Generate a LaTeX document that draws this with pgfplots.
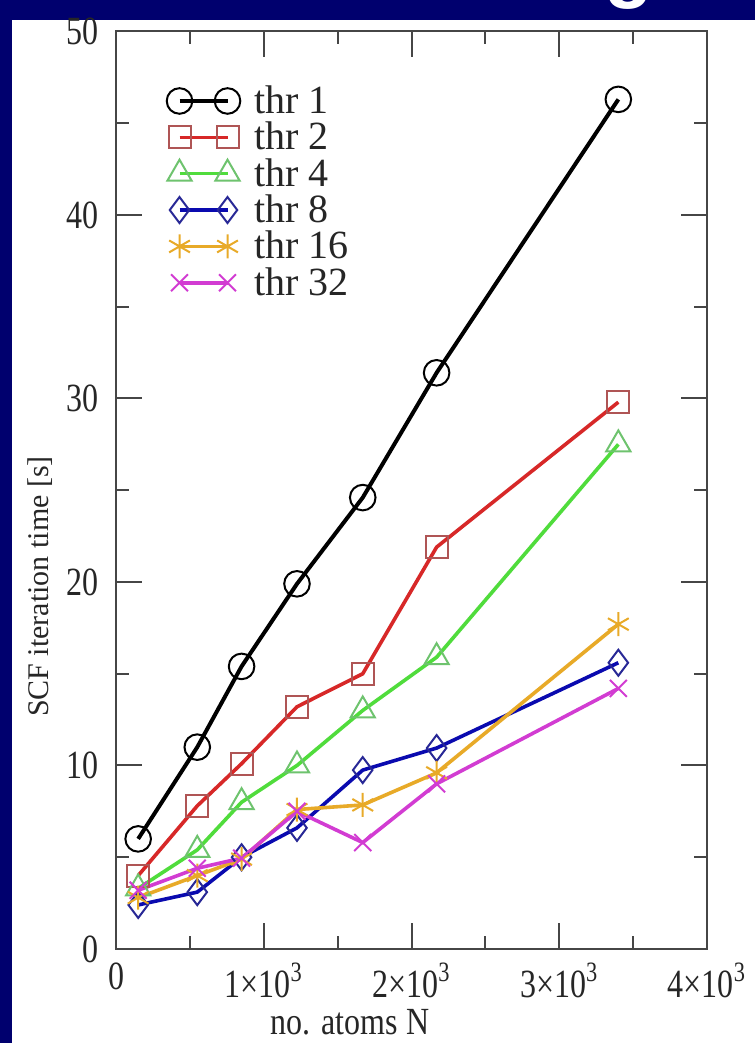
\documentclass[border=0pt]{standalone}
\usepackage{fontspec}
\setmainfont{Liberation Serif}
\newfontfamily\titlefont{Liberation Sans}
\usepackage{pgfplots}
\pgfplotsset{compat=1.18}
\definecolor{navybg}{RGB}{0,0,110}
\definecolor{axgray}{RGB}{70,70,70}
\definecolor{c1}{RGB}{0,0,0}
\definecolor{c2}{RGB}{215,40,40}
\definecolor{m2}{RGB}{175,85,85}
\definecolor{c4}{RGB}{80,220,60}
\definecolor{m4}{RGB}{110,195,110}
\definecolor{c8}{RGB}{10,10,175}
\definecolor{m8}{RGB}{40,40,150}
\definecolor{c16}{RGB}{232,170,40}
\definecolor{c32}{RGB}{210,60,210}
\begin{document}
\begin{tikzpicture}
\useasboundingbox (0,0) rectangle (377.5pt,521.5pt);
\fill[navybg] (0,0) rectangle (377.5pt,521.5pt);
\fill[white] (6pt,0) rectangle (377.5pt,511.5pt);
\node[white, anchor=base east, inner sep=0pt, font=\titlefont\bfseries\fontsize{40}{40}\selectfont] at (327pt,525pt) {g};
\begin{axis}[
  at={(58pt,47pt)}, anchor=south west,
  scale only axis, width=295.5pt, height=458.75pt,
  xmin=0, xmax=4000, ymin=0, ymax=50,
  xtick={0,1000,2000,3000,4000},
  xticklabels={0,{1×10\textsuperscript{3}},{2×10\textsuperscript{3}},{3×10\textsuperscript{3}},{4×10\textsuperscript{3}}},
  ytick={0,10,20,30,40,50},
  minor tick num=1,
  tick align=inside,
  major tick length=13pt, minor tick length=6.5pt,
  every tick/.style={axgray, line width=1pt},
  axis line style={axgray, line width=1pt},
  /pgf/number format/assume math mode=true,
  tick label style={font=\fontsize{16}{19}\selectfont, text=black!85, yscale=1.25},
  yticklabel style={xshift=-5pt},
  xticklabel style={yshift=-2pt},
  xlabel={no. atoms N},
  ylabel={SCF iteration time [s]},
  xlabel style={font=\fontsize{16}{19}\selectfont, text=black!85, yscale=1.2, at={(axis description cs:0.396,-0.0796)}, anchor=center},
  ylabel style={font=\fontsize{15}{18}\selectfont, text=black!85, at={(axis description cs:-0.1286,0.395)}, anchor=center},
  clip=false,
  legend cell align=left,
  legend style={draw=none, fill=none, at={(axis description cs:0.075,0.948)}, anchor=north west,
    font=\fontsize{20}{21}\selectfont, row sep=0.8pt, column sep=5pt, text=black!85,
    nodes={inner ysep=1pt}},
  legend image code/.code={\draw[mark repeat=1,mark phase=1] plot coordinates {(0pt,0pt) (24pt,0pt)};},
]
\addplot[c1, line width=2pt, mark=o, mark size=6.4pt, mark options={solid, line width=1pt, c1}]
  coordinates {(150,6.0) (550,11.0) (850,15.4) (1225,19.9) (1670,24.6) (2170,31.4) (3400,46.3)};
\addlegendentry{thr 1}
\addplot[c2, line width=1.8pt, mark=square, mark size=5.5pt, mark options={solid, line width=1pt, m2}]
  coordinates {(150,4.0) (550,7.8) (850,10.1) (1225,13.2) (1670,15.0) (2170,21.9) (3400,29.8)};
\addlegendentry{thr 2}
\addplot[c4, line width=1.8pt, mark=triangle, mark size=7pt, mark options={solid, line width=1pt, m4}]
  coordinates {(150,3.3) (550,5.4) (850,8.0) (1225,10.0) (1670,13.0) (2170,15.9) (3400,27.5)};
\addlegendentry{thr 4}
\addplot[c8, line width=1.8pt, mark=diamond, mark size=6.5pt, mark options={solid, line width=1pt, m8}]
  coordinates {(150,2.4) (550,3.1) (850,5.0) (1225,6.6) (1670,9.75) (2170,10.95) (3400,15.6)};
\addlegendentry{thr 8}
\addplot[c16, line width=1.8pt, mark=asterisk, mark size=6pt, mark options={solid, line width=1pt, c16}]
  coordinates {(150,2.8) (550,4.0) (850,4.9) (1225,7.6) (1670,7.85) (2170,9.6) (3400,17.7)};
\addlegendentry{thr 16}
\addplot[c32, line width=1.8pt, mark=x, mark size=6pt, mark options={solid, line width=1pt, c32}]
  coordinates {(150,3.2) (550,4.4) (850,4.95) (1225,7.5) (1670,5.8) (2170,9.0) (3400,14.2)};
\addlegendentry{thr 32}
\end{axis}
\end{tikzpicture}
\end{document}
